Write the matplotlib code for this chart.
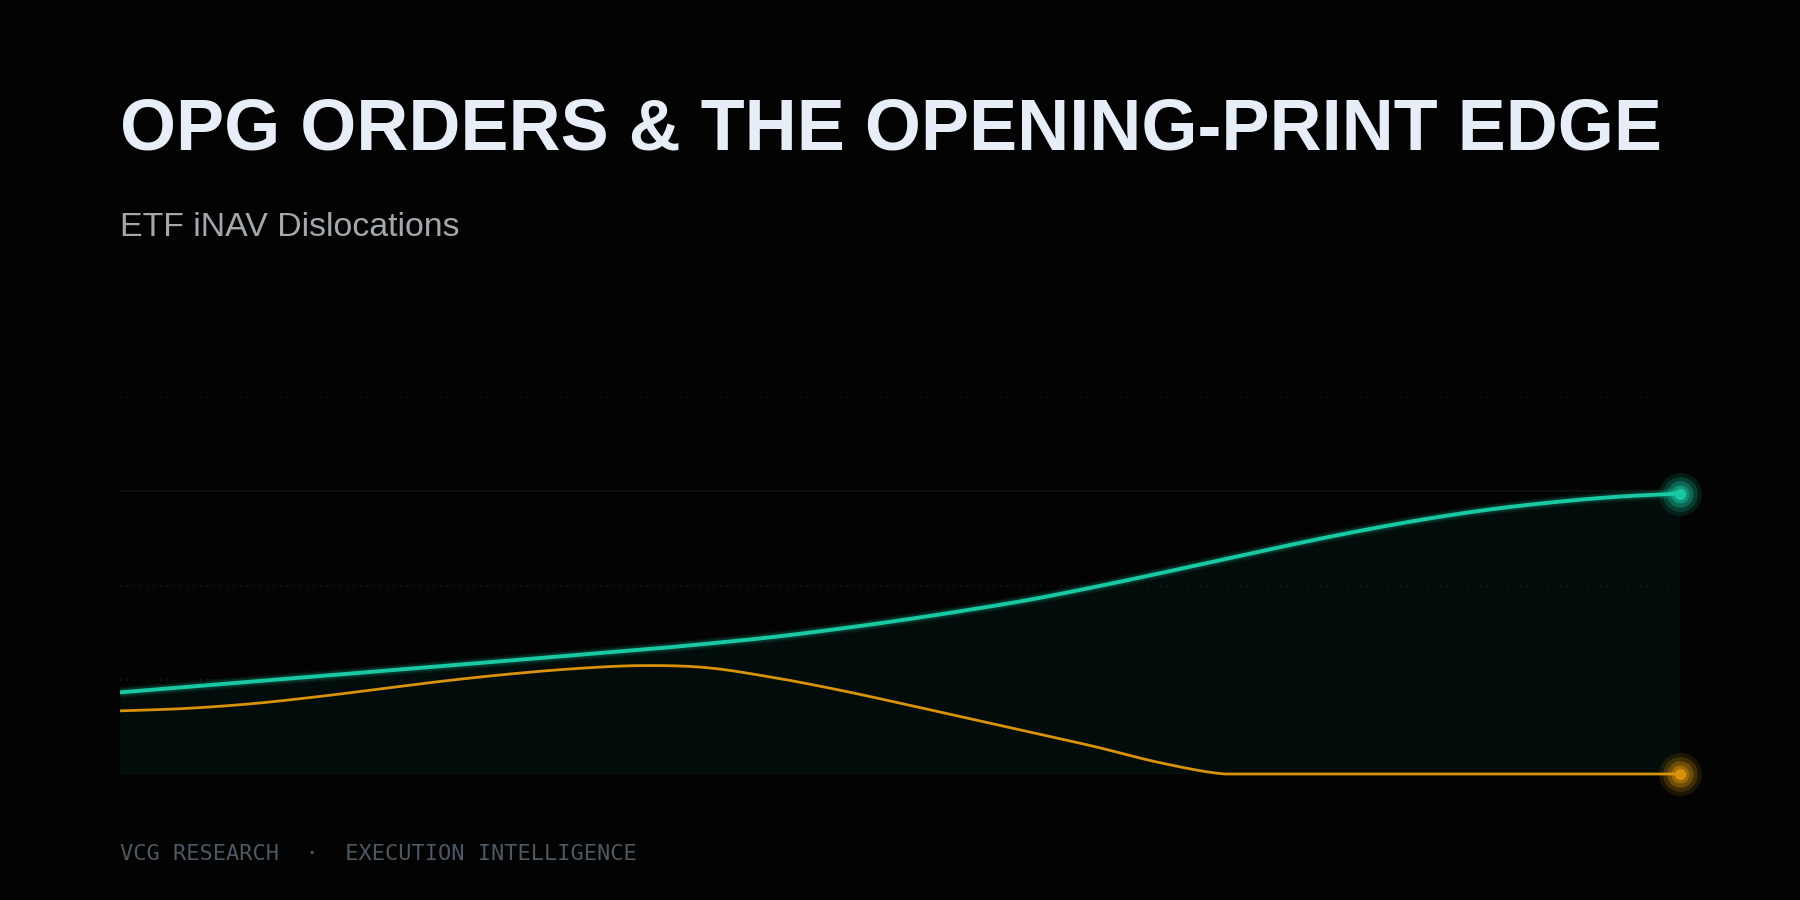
import numpy as np
import matplotlib
matplotlib.use('Agg')
import matplotlib.pyplot as plt

# values (index = time step, y in arbitrary units)
steps = list(range(25))
inav_gap = [0.866, 0.922, 0.979, 1.035, 1.092, 1.148, 1.204, 1.261, 1.317, 1.380,
            1.450, 1.535, 1.630, 1.735, 1.850, 1.985, 2.130, 2.280, 2.430, 2.570,
            2.695, 2.800, 2.880, 2.940, 2.976]
opg_edge = [0.67, 0.695, 0.744, 0.817, 0.902, 0.988, 1.061, 1.118, 1.150, 1.130,
            1.030, 0.900, 0.752, 0.598, 0.445, 0.290, 0.120, 0, 0, 0,
            0, 0, 0, 0, 0]
grid_levels = [0, 1, 2, 3, 4]

BG = '#030303'
TEAL = '#19c9a3'
AMBER = '#d8920c'


def smooth(x, y, n=800):
    # catmull-rom style cubic through the points
    x = np.asarray(x, float)
    y = np.asarray(y, float)
    h = np.diff(x)
    m = np.gradient(y, x)
    xs = np.linspace(x[0], x[-1], n)
    idx = np.clip(np.searchsorted(x, xs) - 1, 0, len(x) - 2)
    t = (xs - x[idx]) / h[idx]
    h00 = 2 * t**3 - 3 * t**2 + 1
    h10 = t**3 - 2 * t**2 + t
    h01 = -2 * t**3 + 3 * t**2
    h11 = t**3 - t**2
    ys = h00 * y[idx] + h10 * h[idx] * m[idx] + h01 * y[idx + 1] + h11 * h[idx] * m[idx + 1]
    return xs, ys


fig = plt.figure(figsize=(18, 9), dpi=100, facecolor=BG)
ax = fig.add_axes([120 / 1800, 1 - 774 / 900, 1560 / 1800, 377 / 900])
ax.set_facecolor(BG)
ax.set_xlim(steps[0], steps[-1])
ax.set_ylim(0, 4)
for s in ax.spines.values():
    s.set_visible(False)
ax.set_xticks([])
ax.set_yticks([])

gx, gy = smooth(steps, inav_gap)
ox, oy = smooth(steps, opg_edge)
oy = np.clip(oy, 0, None)

ax.fill_between(gx, 0, gy, color='#020c0a', zorder=1, lw=0)

for g in grid_levels:
    if g == 3:
        ax.axhline(g, color='#0b1512', lw=1.2, zorder=1.5)
    else:
        ax.axhline(g, color='#111b18', lw=1.2, ls=(0, (1, 3)), zorder=1.5)

# glow then line
for lw, a in [(8, 0.08), (5.5, 0.16)]:
    ax.plot(gx, gy, color=TEAL, lw=lw, alpha=a, solid_capstyle='butt', zorder=2)
ax.plot(gx, gy, color=TEAL, lw=2.8, zorder=3, solid_capstyle='butt')
ax.plot(ox, oy, color=AMBER, lw=2.0, zorder=3, solid_capstyle='butt', clip_on=False)

for yv, c in [(inav_gap[-1], TEAL), (opg_edge[-1], AMBER)]:
    for ms, a in [(31, 0.12), (25, 0.2), (19, 0.3), (13, 0.45)]:
        ax.plot(steps[-1], yv, 'o', ms=ms, color=c, alpha=a, mec='none', zorder=4, clip_on=False)
    ax.plot(steps[-1], yv, 'o', ms=8, color=c, mec='none', zorder=5, clip_on=False)

fig.text(120 / 1800, 1 - 149 / 900, 'OPG ORDERS & THE OPENING-PRINT EDGE',
         family='Liberation Sans', weight='bold', fontsize=51.8, color='#e8eef8',
         ha='left', va='baseline')
fig.text(120 / 1800, 1 - 236 / 900, 'ETF iNAV Dislocations',
         family='Liberation Sans', fontsize=24.4, color='#a3a8ad',
         ha='left', va='baseline')
fig.text(120 / 1800, 1 - 860 / 900, 'VCG RESEARCH  \u00b7  EXECUTION INTELLIGENCE',
         family='DejaVu Sans Mono', fontsize=15.8, color='#4d5862',
         ha='left', va='baseline')

fig.savefig('out.png', dpi=100, facecolor=BG)
